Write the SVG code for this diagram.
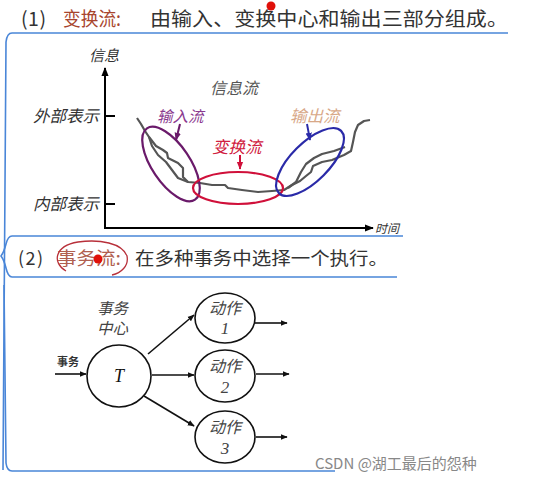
<svg xmlns="http://www.w3.org/2000/svg" width="541" height="481" viewBox="0 0 541 481">
<defs>
<style>
.cn{font-family:"Noto Sans CJK SC","Liberation Sans",sans-serif}
.it{font-family:"Noto Sans CJK SC","Liberation Serif",serif;font-style:italic}
.br{fill:none;stroke:#4a86d8;stroke-width:1.6}
.ax{stroke:#000;stroke-width:2;fill:none}
.ln{stroke:#111;stroke-width:1.6;fill:none}
.nd{fill:#fff;stroke:#111;stroke-width:1.6}
.wv{fill:none;stroke:#555;stroke-width:2.2;stroke-linejoin:round}
</style>
<marker id="ah" viewBox="0 0 10 10" refX="9" refY="5" markerWidth="7" markerHeight="7" markerUnits="userSpaceOnUse" orient="auto"><path d="M0,1 L10,5 L0,9 Z" fill="#111"/></marker>
<marker id="ahb" viewBox="0 0 10 10" refX="9" refY="5" markerWidth="9" markerHeight="9" markerUnits="userSpaceOnUse" orient="auto"><path d="M0,1 L10,5 L0,9 Z" fill="#000"/></marker>
<marker id="ahp" viewBox="0 0 10 10" refX="9" refY="5" markerWidth="8" markerHeight="8" markerUnits="userSpaceOnUse" orient="auto"><path d="M0,1 L10,5 L0,9 Z" fill="#6a1a6a"/></marker>
<marker id="ahr" viewBox="0 0 10 10" refX="9" refY="5" markerWidth="8" markerHeight="8" markerUnits="userSpaceOnUse" orient="auto"><path d="M0,1 L10,5 L0,9 Z" fill="#d0103a"/></marker>
<marker id="ahbl" viewBox="0 0 10 10" refX="9" refY="5" markerWidth="8" markerHeight="8" markerUnits="userSpaceOnUse" orient="auto"><path d="M0,1 L10,5 L0,9 Z" fill="#2a2aa8"/></marker>
</defs>
<rect width="541" height="481" fill="#fff"/>

<!-- titles -->
<g id="title1" class="cn" font-size="19.5">
<text x="21" y="26" fill="#333" textLength="25" lengthAdjust="spacing">(1)</text>
<text x="63" y="26" fill="#a8452e" textLength="58" lengthAdjust="spacingAndGlyphs">变换流:</text>
<text x="150" y="26" fill="#333" textLength="358" lengthAdjust="spacingAndGlyphs">由输入、变换中心和输出三部分组成。</text>
<circle cx="271" cy="6" r="4.5" fill="#e0100a"/>
</g>

<g id="title2" class="cn" font-size="18">
<text x="18" y="265" fill="#333" textLength="25" lengthAdjust="spacing">(2)</text>
<text x="57" y="265" fill="#b06050" textLength="64" lengthAdjust="spacingAndGlyphs">事务流:</text>
<text x="135" y="265" fill="#333" textLength="253" lengthAdjust="spacingAndGlyphs">在多种事务中选择一个执行。</text>
<path d="M66,271 C52,263 54,246 78,242 C100,239 122,243 127,256 C129,266 121,273 112,275" fill="none" stroke="#b8303a" stroke-width="1.3"/>
<circle cx="98" cy="259" r="4.5" fill="#e0100a"/>
</g>

<!-- brackets -->
<g id="brackets">
<path class="br" d="M508,33 L12,33 Q7,33 6,42 L3,470"/>
<path class="br" d="M403,236 L12,236 Q8,236 6,244 Q4,252 1,256 Q4,260 6,268 Q8,277 12,277 L397,277"/>
<path class="br" d="M4,285 L6,463 Q7,471 12,471 L335,471"/>
</g>

<!-- top chart -->
<g id="chart">
<path class="ax" d="M105,229 L105,68" marker-end="url(#ahb)"/>
<path class="ax" d="M104,228 L373,228" marker-end="url(#ahb)"/>
<path class="ax" d="M105,116 L115,116 M105,204 L115,204"/>
<text class="it" x="89" y="61" font-size="15" fill="#333">信息</text>
<text class="it" x="375" y="233" font-size="12" fill="#333">时间</text>
<text class="it" x="33" y="122" font-size="16.5" fill="#333">外部表示</text>
<text class="it" x="33" y="210" font-size="16.5" fill="#333">内部表示</text>
<text class="it" x="210" y="94" font-size="16" fill="#555">信息流</text>
</g>

<g id="flows">
<path class="wv" d="M137,118 L141,124 L145,131 L149,137 L156,146 L163,150 L167,153 L168,158 L178,163 L183,168 L183,177 L188,182 L200,183 L212,185 L225,185 L228,188 L242,190 L258,192 L272,191 L284,190 L292,185 L300,181 L306,176 L311,172 L313,166 L322,162 L332,160 L344,155 L351,151 L353,142 L355,132 L358,125 L364,121 L370,120"/>
<path class="wv" d="M149,137 L152,146 L158,155 L166,162 L172,170 L178,178 L188,182"/>
<path class="wv" d="M288,188 L296,182 L301,172 L306,164 L314,158 L322,154 L334,151 L345,147"/>
</g>

<g id="input-flow">
<ellipse cx="171" cy="164" rx="43" ry="19" transform="rotate(56 171 164)" fill="none" stroke="#6a1a6a" stroke-width="2.2"/>
<text class="it" x="157" y="122" font-size="15.5" fill="#8b3a8f">输入流</text>
<path d="M180,124 L176,140" stroke="#6a1a6a" stroke-width="2" fill="none" marker-end="url(#ahp)"/>
</g>

<g id="transform-flow">
<ellipse cx="238" cy="188" rx="45" ry="16" fill="none" stroke="#d0103a" stroke-width="2.2"/>
<text class="it" x="212" y="153" font-size="16.5" fill="#d02040">变换流</text>
<path d="M240,155 L240,169" stroke="#d0103a" stroke-width="2" fill="none" marker-end="url(#ahr)"/>
</g>

<g id="output-flow">
<ellipse cx="310" cy="162" rx="44" ry="19" transform="rotate(-45 310 162)" fill="none" stroke="#2a2aa8" stroke-width="2.2"/>
<text class="it" x="290" y="122" font-size="16.5" fill="#d8a888">输出流</text>
<path d="M307,124 L310,140" stroke="#2a2aa8" stroke-width="2" fill="none" marker-end="url(#ahbl)"/>
</g>

<!-- transaction diagram -->
<g id="connectors">
<path class="ln" d="M55,374 L86,374" marker-end="url(#ah)"/>
<path class="ln" d="M148,354 L194,315" marker-end="url(#ah)"/>
<path class="ln" d="M152,375 L194,375" marker-end="url(#ah)"/>
<path class="ln" d="M144,396 L194,426" marker-end="url(#ah)"/>
<path class="ln" d="M255,323 L287,323" marker-end="url(#ah)"/>
<path class="ln" d="M256,374 L289,374" marker-end="url(#ah)"/>
<path class="ln" d="M256,437 L287,437" marker-end="url(#ah)"/>
<text class="cn" x="57" y="366" font-size="11" font-weight="bold" fill="#333">事务</text>
</g>

<g id="center-label">
<text class="it" x="97" y="314" font-size="15.5" fill="#444">事务</text>
<text class="it" x="97" y="334" font-size="15.5" fill="#444">中心</text>
</g>

<g id="node-T">
<ellipse class="nd" cx="119" cy="376" rx="32" ry="31"/>
<text x="119" y="382" font-family="Liberation Serif, serif" font-style="italic" font-size="18" text-anchor="middle" fill="#111">T</text>
</g>

<g id="node-a1">
<ellipse class="nd" cx="225" cy="318" rx="30" ry="25"/>
<text class="it" x="225" y="314" font-size="16" text-anchor="middle" fill="#444">动作</text>
<text x="225" y="334" font-family="Liberation Serif, serif" font-style="italic" font-size="17" text-anchor="middle" fill="#444">1</text>
</g>

<g id="node-a2">
<ellipse class="nd" cx="225" cy="376" rx="30" ry="26"/>
<text class="it" x="225" y="372" font-size="16" text-anchor="middle" fill="#444">动作</text>
<text x="225" y="393" font-family="Liberation Serif, serif" font-style="italic" font-size="17" text-anchor="middle" fill="#444">2</text>
</g>

<g id="node-a3">
<ellipse class="nd" cx="225" cy="437" rx="30" ry="26"/>
<text class="it" x="225" y="433" font-size="16" text-anchor="middle" fill="#444">动作</text>
<text x="225" y="454" font-family="Liberation Serif, serif" font-style="italic" font-size="17" text-anchor="middle" fill="#444">3</text>
</g>

<text id="watermark" class="cn" x="315" y="469" font-size="15" fill="#888">CSDN @湖工最后的怨种</text>
</svg>
